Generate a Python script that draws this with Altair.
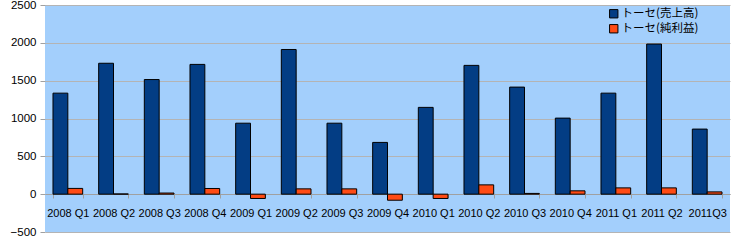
import altair as alt
import pandas as pd

quarters = ["2008 Q1", "2008 Q2", "2008 Q3", "2008 Q4",
            "2009 Q1", "2009 Q2", "2009 Q3", "2009 Q4",
            "2010 Q1", "2010 Q2", "2010 Q3", "2010 Q4",
            "2011 Q1", "2011 Q2", "2011Q3"]
sales = [1335, 1730, 1515, 1715, 938, 1912, 938, 684, 1147, 1702, 1415, 1005, 1335, 1984, 860]
profit = [76, 3, 15, 75, -57, 70, 70, -80, -57, 123, 10, 44, 83, 83, 30]
series = ["トーセ(売上高)", "トーセ(純利益)"]
colors = ["#033d84", "#ff4b14"]

rows = []
for q, s, p in zip(quarters, sales, profit):
    rows.append({"q": q, "series": series[0], "v": s})
    rows.append({"q": q, "series": series[1], "v": p})
df = pd.DataFrame(rows)

font = "Liberation Sans"

chart = alt.Chart(df).mark_bar(stroke="black", strokeWidth=1).encode(
    x=alt.X("q:N", sort=quarters, title=None,
            scale=alt.Scale(paddingInner=0.35, paddingOuter=0.175),
            axis=alt.Axis(labelAngle=0, offset=-38, tickBand="extent", grid=False,
                          domainColor="#a0a0a0", tickColor="#a0a0a0", tickSize=4,
                          labelFont=font, labelFontSize=11, labelColor="black",
                          labelPadding=9)),
    xOffset=alt.XOffset("series:N", sort=series),
    y=alt.Y("v:Q", title=None,
            scale=alt.Scale(domain=[-500, 2500], nice=False),
            axis=alt.Axis(values=[-500, 0, 500, 1000, 1500, 2000, 2500], format="d",
                          gridColor="#b4b4b4", domain=False, tickColor="#a0a0a0",
                          tickSize=5, labelFont=font, labelFontSize=11.5,
                          labelColor="black", labelPadding=4)),
    color=alt.Color("series:N", sort=series,
                    scale=alt.Scale(domain=series, range=colors),
                    legend=alt.Legend(title=None, orient="none", legendX=563, legendY=3,
                                      symbolType="square", symbolSize=70,
                                      symbolStrokeColor="black", symbolStrokeWidth=1,
                                      labelFont="Noto Sans CJK JP", labelFontSize=11.5,
                                      labelColor="black", rowPadding=2, symbolOffset=0,
                                      labelOffset=2)),
).properties(
    width=685, height=227,
    background="white",
    autosize=alt.AutoSizeParams(type="none"),
    padding={"left": 45, "top": 5, "right": 2, "bottom": 8},
).configure_view(fill="#a3cffc", strokeWidth=0)

chart.save("out.html", embed_options={"renderer": "svg", "actions": False})
